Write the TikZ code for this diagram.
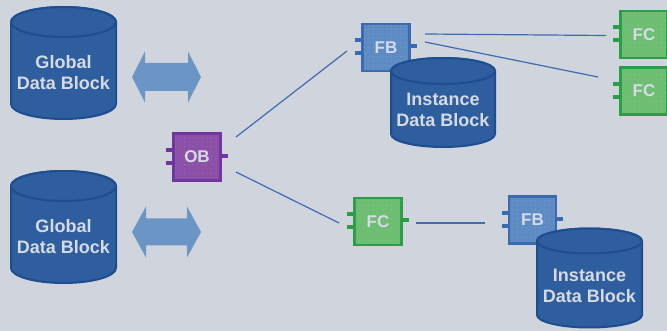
\documentclass[tikz,border=0pt]{standalone}
\usepackage{fontspec}
\setmainfont{Liberation Sans}
\usetikzlibrary{calc,patterns.meta}
\definecolor{bg}{HTML}{D0D4DC}
\definecolor{cylfill}{HTML}{2F5E9E}
\definecolor{cylline}{HTML}{1E4E90}
\definecolor{arrowc}{HTML}{6A95C5}
\definecolor{linec}{HTML}{3D6CB0}
\definecolor{obfill}{HTML}{8B50A8}
\definecolor{obline}{HTML}{7235A0}
\definecolor{fbfill}{HTML}{5E8BC4}
\definecolor{fbline}{HTML}{3A6BB0}
\definecolor{fcfill}{HTML}{6DBE73}
\definecolor{fcline}{HTML}{2A9D47}
\definecolor{txt}{HTML}{D6DAE4}
\newcommand\mycyl[6]{% l, r, top center y, bottom center y, ry, name
  \pgfmathsetmacro\cx{(#1+#2)/2}\pgfmathsetmacro\rx{(#2-#1)/2}
  \draw[cyl] (#1,#3) -- (#1,#4) arc[start angle=180,end angle=0,x radius=\rx,y radius=#5]
     -- (#2,#3) arc[start angle=0,end angle=-180,x radius=\rx,y radius=#5] -- cycle;
  \draw[cyl] (\cx,#3) ellipse[x radius=\rx,y radius=#5];
}
\newcommand\mypins[2]{% node, color
  \fill[#2] ($(#1.west)+(-6,-9)$) rectangle ++(6,4);
  \fill[#2] ($(#1.west)+(-6,4)$) rectangle ++(6,4);
  \fill[#2] ($(#1.east)+(0,-3)$) rectangle ++(6,4);
}
\tikzset{
  cyl/.style={fill=cylfill,draw=cylline,line width=2pt},
  cyltext/.style={text=txt,align=center,font=\bfseries\fontsize{18}{21}\selectfont},
  blk/.style={minimum size=47pt,line width=2.5pt,inner sep=0pt,text=txt,
    font=\bfseries\fontsize{17}{17}\selectfont},
  ob/.style={blk,fill=obfill,draw=obline},
  fb/.style={blk,fill=fbfill,draw=fbline},
  fc/.style={blk,fill=fcfill,draw=fcline},
  dotsov/.style={pattern={Dots[radius=0.4pt,distance=4.5pt]},pattern color=white,opacity=0.25},
  conn/.style={draw=linec,line width=1.2pt},
  dbl/.style={fill=arrowc}
}
\begin{document}
\begin{tikzpicture}[x=1pt,y=-1pt]
\fill[bg] (0,0) rectangle (667,331);
\useasboundingbox (0,0) rectangle (667,331);

% global data blocks
\mycyl{11}{116}{22}{104}{15}{g1}
\node[cyltext] (gdb1) at (63.5,73) {Global\\Data Block};
\mycyl{11}{116}{186}{268}{15}{g2}
\node[cyltext] (gdb2) at (63.5,237) {Global\\Data Block};

% double arrows
\fill[dbl] (132,77) -- (145,51.5) -- (145,63) -- (188,63) -- (188,51.5) -- (201,77)
  -- (188,102.5) -- (188,91) -- (145,91) -- (145,102.5) -- cycle;
\fill[dbl] (132,232) -- (146,206.5) -- (146,218.5) -- (187,218.5) -- (187,206.5) -- (201,232)
  -- (187,257.5) -- (187,245.5) -- (146,245.5) -- (146,257.5) -- cycle;

% OB
\node[ob] (ob) at (197,157) {};
\mypins{ob}{obline}
\fill[dotsov] ($(ob.south west)+(2,-2)$) rectangle ($(ob.north east)+(-2,2)$);
\node[text=txt,font=\bfseries\fontsize{17}{17}\selectfont] (obl) at (ob.center) {OB};

% FB top
\node[fb] (fb1) at (386,47.5) {};
\mypins{fb1}{fbline}
\fill[dotsov] ($(fb1.south west)+(2,-2)$) rectangle ($(fb1.north east)+(-2,2)$);
\node[text=txt,font=\bfseries\fontsize{17}{17}\selectfont] (fb1l) at (fb1.center) {FB};

% instance DB top
\mycyl{391}{495}{71}{134}{13}{i1}
\node[cyltext] (idb1) at (443,110) {Instance\\Data Block};

% FC top right
\node[fc] (fc1) at (644,34.5) {};
\mypins{fc1}{fcline}
\fill[dotsov] ($(fc1.south west)+(2,-2)$) rectangle ($(fc1.north east)+(-2,2)$);
\node[text=txt,font=\bfseries\fontsize{17}{17}\selectfont] (fc1l) at (fc1.center) {FC};
\node[fc] (fc2) at (644,91) {};
\mypins{fc2}{fcline}
\fill[dotsov] ($(fc2.south west)+(2,-2)$) rectangle ($(fc2.north east)+(-2,2)$);
\node[text=txt,font=\bfseries\fontsize{17}{17}\selectfont] (fc2l) at (fc2.center) {FC};

% FC lower
\node[fc] (fc3) at (378,221.5) {};
\mypins{fc3}{fcline}
\fill[dotsov] ($(fc3.south west)+(2,-2)$) rectangle ($(fc3.north east)+(-2,2)$);
\node[text=txt,font=\bfseries\fontsize{17}{17}\selectfont] (fc3l) at (fc3.center) {FC};

% FB lower
\node[fb] (fb2) at (532.5,220) {};
\mypins{fb2}{fbline}
\fill[dotsov] ($(fb2.south west)+(2,-2)$) rectangle ($(fb2.north east)+(-2,2)$);
\node[text=txt,font=\bfseries\fontsize{17}{17}\selectfont] (fb2l) at (fb2.center) {FB};

% instance DB lower
\mycyl{537}{642}{241}{315}{12.5}{i2}
\node[cyltext] (idb2) at (589.5,286) {Instance\\Data Block};

% connectors
\coordinate (c1) at (236,137);
\coordinate (c2) at (347,51);
\coordinate (c3) at (236,172);
\coordinate (c4) at (339,223);
\coordinate (c5) at (425,34);
\coordinate (c6) at (606,35.5);
\coordinate (c7) at (425,42);
\coordinate (c8) at (598,77);
\coordinate (c9) at (416,223);
\coordinate (c10) at (485,223);
\draw[conn] (c1) -- (c2);
\draw[conn] (c3) -- (c4);
\draw[conn] (c5) -- (c6);
\draw[conn] (c7) -- (c8);
\draw[conn] (c9) -- (c10);
\end{tikzpicture}
\end{document}
